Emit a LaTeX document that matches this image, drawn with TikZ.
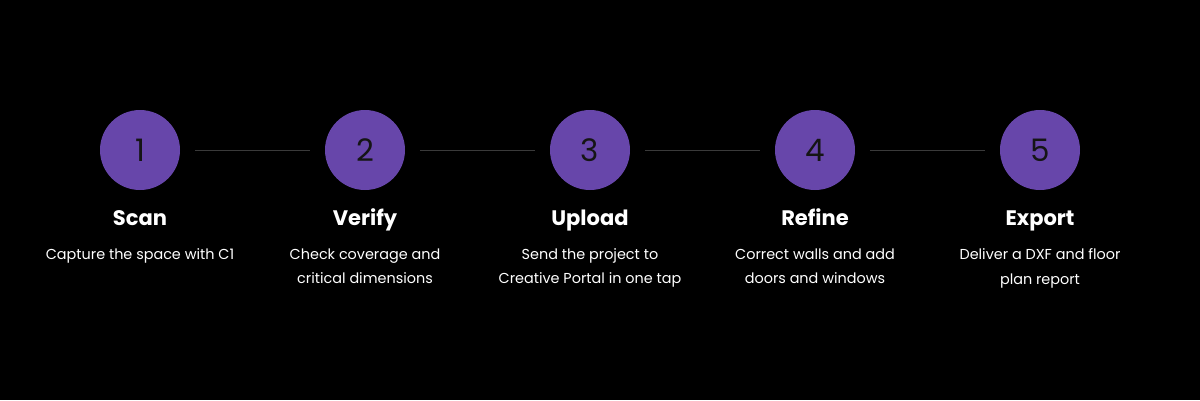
\documentclass[tikz,border=0pt]{standalone}
\usepackage{fontspec}
\setmainfont{Poppins}
\definecolor{stepfill}{HTML}{6746AA}
\definecolor{linegray}{HTML}{3A3A3A}
\definecolor{numcol}{HTML}{151515}
\begin{document}
\begin{tikzpicture}[x=1pt,y=-1pt,
  stepcircle/.style={circle,fill=stepfill,minimum size=80pt,inner sep=0pt,text=numcol,font=\fontsize{31}{31}\selectfont},
  steptitle/.style={text=white,font=\fontsize{21}{24}\selectfont\bfseries,anchor=base},
  stepdesc/.style={text=white,font=\fontsize{14.4}{24.5}\selectfont,align=center,anchor=north},
  conn/.style={draw=linegray,line width=0.8pt}]
\fill[black] (0,0) rectangle (1200,400);
\useasboundingbox (0,0) rectangle (1200,400);
\foreach \i/\x/\t/\d in {1/140/Scan/{Capture the space with C1},
  2/365/Verify/{Check coverage and\\critical dimensions},
  3/590/Upload/{Send the project to\\Creative Portal in one tap},
  4/815/Refine/{Correct walls and add\\doors and windows},
  5/1040/Export/{Deliver a DXF and floor\\plan report}}{
  \node[stepcircle] (c\i) at (\x,150) {\i};
  \node[steptitle] (t\i) at (\x,225) {\t};
  \node[stepdesc] (d\i) at (\x,245) {\d};
}
\foreach \a/\b in {1/2,2/3,3/4,4/5}{
  \draw[conn] ([xshift=15pt]c\a.east) -- ([xshift=-15pt]c\b.west);
}
\end{tikzpicture}
\end{document}
